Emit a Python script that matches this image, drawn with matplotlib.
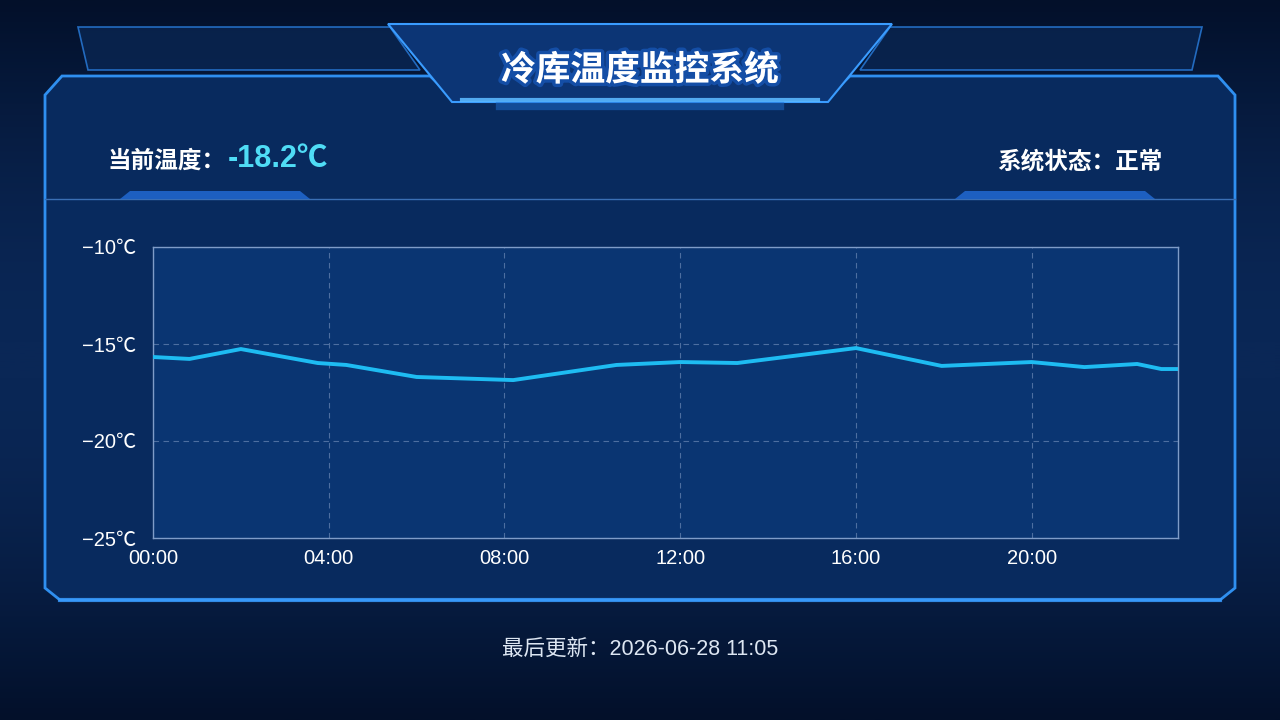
import numpy as np
import matplotlib
matplotlib.use("Agg")
import matplotlib.pyplot as plt
from matplotlib.patches import Polygon
import matplotlib.patheffects as pe

FONTS = ['Liberation Sans', 'Noto Sans CJK SC', 'DejaVu Sans']
plt.rcParams['font.family'] = ['Noto Sans CJK SC', 'DejaVu Sans']

# ── data ──────────────────────────────────────────────────────────────────────
hours = [0.0, 0.83, 2.0, 3.75, 4.4, 6.0, 8.2, 10.55, 12.0, 13.3,
         16.0, 17.95, 20.0, 21.2, 22.4, 22.95, 23.33]
temps = [-15.67, -15.77, -15.26, -15.98, -16.08, -16.70, -16.86, -16.08, -15.93, -15.98,
         -15.21, -16.13, -15.93, -16.19, -16.03, -16.29, -16.29]
x_ticks = [0, 4, 8, 12, 16, 20]
x_labels = ["00:00", "04:00", "08:00", "12:00", "16:00", "20:00"]
y_ticks = [-25, -20, -15, -10]
y_labels = ["\u221225\u2103", "\u221220\u2103", "\u221215\u2103", "\u221210\u2103"]

title = "冷库温度监控系统"
current_label = "当前温度："
current_value = "-18.2℃"
status_text = "系统状态：正常"
footer = "最后更新：2026-06-28 11:05"

# ── figure / background ───────────────────────────────────────────────────────
W, H = 1280, 720
fig = plt.figure(figsize=(12.8, 7.2), dpi=100)
fig.patch.set_facecolor("#04142e")

bg = fig.add_axes([0, 0, 1, 1])
bg.set_xlim(0, W)
bg.set_ylim(H, 0)
bg.axis("off")

# vertical gradient backdrop
grad = np.linspace(0, 1, 256).reshape(-1, 1)
grad = np.sin(grad * np.pi)
cmap = matplotlib.colors.LinearSegmentedColormap.from_list("bgc", ["#03102a", "#0a2756"])
bg.imshow(grad, extent=[0, W, H, 0], aspect="auto", cmap=cmap, zorder=0)

# panel body
panel = [(45, 95), (62, 76), (430, 76), (455, 100), (825, 100), (850, 76),
         (1218, 76), (1235, 95), (1235, 588), (1220, 600), (60, 600), (45, 588)]
bg.add_patch(Polygon(panel, closed=True, facecolor="#082a5e", edgecolor="#2f8ff0",
                     linewidth=2.0, zorder=1))
# header band (top decorations)
left_band = [(78, 27), (390, 27), (420, 70), (88, 70)]
right_band = [(890, 27), (1202, 27), (1192, 70), (860, 70)]
for pts in (left_band, right_band):
    bg.add_patch(Polygon(pts, closed=True, facecolor="#0a2652", edgecolor="#2a7fe0",
                         linewidth=1.2, alpha=0.8, zorder=1))
center = [(388, 24), (892, 24), (828, 102), (452, 102)]
bg.add_patch(Polygon(center, closed=True, facecolor="#0c3575", edgecolor="#3a9cff",
                     linewidth=1.5, zorder=2))
bg.plot([462, 818], [100, 100], color="#5ab8ff", linewidth=3, alpha=0.9, zorder=3)
bg.plot([500, 780], [106, 106], color="#1f6fd0", linewidth=6, alpha=0.5, zorder=3)

# header separator and small highlight tabs
bg.plot([45, 1235], [199, 199], color="#3a6fb5", linewidth=1.0, zorder=2)
for x0, x1 in ((120, 310), (955, 1155)):
    bg.add_patch(Polygon([(x0, 199), (x0 + 10, 191), (x1 - 10, 191), (x1, 199)],
                         closed=True, facecolor="#1d5fc0", edgecolor="none", zorder=2))
# bottom glow line
bg.plot([60, 1220], [600, 600], color="#3a9cff", linewidth=3, alpha=0.8, zorder=2)

# ── texts ─────────────────────────────────────────────────────────────────────
bg.text(640, 70, title, ha="center", va="center", color="white", fontsize=25,
        fontweight="heavy", zorder=5,
        path_effects=[pe.withStroke(linewidth=5, foreground="#1a5fc8", alpha=0.6)])
bg.text(108, 161, current_label, ha="left", va="center", color="white",
        fontsize=17, fontweight="bold", zorder=5)
bg.text(228, 159, current_value, ha="left", va="center", color="#4fdcf5",
        fontsize=22, fontweight="bold", family=FONTS, zorder=5)
bg.text(1162, 161, status_text, ha="right", va="center", color="white",
        fontsize=17, fontweight="bold", zorder=5)
bg.text(640, 649, footer, ha="center", va="center", color="#dde6f2",
        fontsize=15.5, family=FONTS, zorder=5)

# ── chart ─────────────────────────────────────────────────────────────────────
ax = fig.add_axes([153 / W, 1 - 538 / H, (1178 - 153) / W, (538 - 247) / H])
ax.set_facecolor("#0a3572")
ax.plot(hours, temps, color="#1ebcf2", linewidth=2.8, solid_joinstyle="round", zorder=3)

ax.set_xlim(0, 23.33)
ax.set_ylim(-25, -10)
ax.set_xticks(x_ticks)
ax.set_xticklabels(x_labels)
ax.set_yticks(y_ticks)
ax.set_yticklabels(y_labels)
ax.tick_params(axis="both", length=0, colors="white", labelsize=14.5)
ax.tick_params(axis="x", pad=8)
ax.tick_params(axis="y", pad=12)
for lab in ax.get_xticklabels() + ax.get_yticklabels():
    lab.set_family(FONTS)

ax.grid(True, color="#6a87b5", linestyle=(0, (5, 4)), linewidth=0.8, alpha=0.7)
for s in ax.spines.values():
    s.set_color("#7f9cc8")
    s.set_linewidth(1.0)

fig.savefig("out.png", dpi=100, facecolor=fig.get_facecolor())
